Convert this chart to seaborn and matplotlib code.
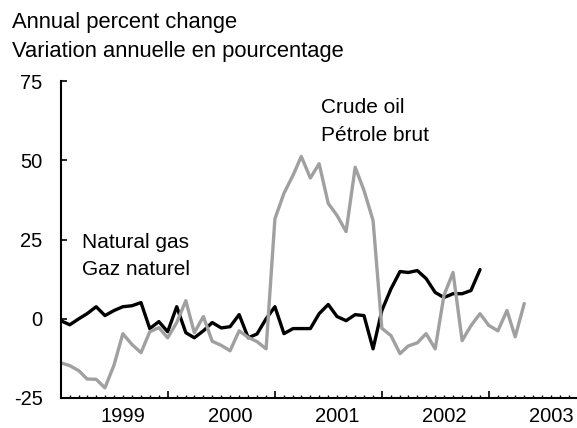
import matplotlib
matplotlib.use("Agg")
import matplotlib.pyplot as plt
import matplotlib.dates as mdates
from matplotlib.ticker import FixedLocator, FuncFormatter, NullFormatter
import pandas as pd
import seaborn as sns

# Monthly year-over-year changes, starting December 1998
crude_oil = [
    -13.9, -14.8, -16.4, -19.0, -19.1, -21.8, -14.6, -4.7, -8.1, -10.7,
    -4.1, -2.8, -6.0, -1.2, 5.7, -4.4, 0.7, -7.1, -8.4, -10.1,
    -3.8, -5.9, -7.2, -9.5, 31.5, 39.6, 45.3, 51.2, 44.4, 48.9,
    36.4, 32.6, 27.5, 47.8, 40.5, 31.0, -3.0, -5.3, -11.0, -8.6,
    -7.6, -4.7, -9.5, 7.4, 14.6, -6.9, -2.2, 1.6, -2.1, -3.8,
    2.6, -5.7, 4.8,
]
natural_gas = [
    -0.6, -1.9, 0.0, 1.6, 3.8, 1.0, 2.6, 3.8, 4.1, 5.1,
    -3.1, -0.9, -4.1, 3.8, -4.4, -6.0, -3.8, -1.2, -2.9, -2.5,
    1.3, -6.0, -4.8, 0.0, 3.8, -4.7, -3.1, -3.1, -3.1, 1.6,
    4.5, 0.7, -0.6, 1.3, 1.0, -9.5, 2.6, 9.4, 14.9, 14.6,
    15.2, 12.7, 8.3, 6.7, 7.9, 7.9, 8.9, 15.5,
]
year_labels = ["1999", "2000", "2001", "2002", "2003"]
y_ticks = [-25, 0, 25, 50, 75]

oil_dates = pd.date_range("1998-12-01", periods=len(crude_oil), freq="MS")
gas_dates = pd.date_range("1998-12-01", periods=len(natural_gas), freq="MS")
df = pd.concat([
    pd.DataFrame({"date": gas_dates, "value": natural_gas, "series": "Natural gas"}),
    pd.DataFrame({"date": oil_dates, "value": crude_oil, "series": "Crude oil"}),
], ignore_index=True)

sns.set_theme(style="white")
plt.rcParams["font.family"] = ["Liberation Sans", "DejaVu Sans"]

fig = plt.figure(figsize=(5.77, 4.28), dpi=100)
ax = fig.add_axes([0.1052, 0.0701, 0.8948, 0.7406])

sns.lineplot(
    data=df, x="date", y="value", hue="series",
    hue_order=["Natural gas", "Crude oil"],
    palette={"Natural gas": "#000000", "Crude oil": "#a0a0a0"},
    linewidth=2.4, legend=False, ax=ax,
)

ax.set_xlim(mdates.date2num(pd.Timestamp("1998-12-01")),
            mdates.date2num(pd.Timestamp("2003-09-28")))
ax.set_ylim(-25, 75)
ax.set_xlabel("")
ax.set_ylabel("")

for side in ("top", "right"):
    ax.spines[side].set_visible(False)
for side in ("left", "bottom"):
    ax.spines[side].set_color("black")
    ax.spines[side].set_linewidth(1.5)

# y axis: inward ticks
ax.set_yticks(y_ticks)
ax.set_yticklabels([str(v) for v in y_ticks])
ax.tick_params(axis="y", direction="in", length=4.5, width=1.2, color="black",
               pad=13, labelsize=14.5, labelcolor="black", left=True)

# x axis: monthly minor ticks, year names centred mid-year, taller ticks each December
month_ticks = pd.date_range("1999-01-01", "2003-09-01", freq="MS")
label_at = {pd.Timestamp(f"{y}-07-01"): y for y in year_labels}
month_nums = [mdates.date2num(d) for d in month_ticks]
num_to_label = {mdates.date2num(k): v for k, v in label_at.items()}

dec_ticks = [mdates.date2num(pd.Timestamp(f"{y}-12-01")) for y in (1999, 2000, 2001, 2002)]
ax.xaxis.set_major_locator(FixedLocator(dec_ticks))
ax.xaxis.set_major_formatter(NullFormatter())
ax.xaxis.set_minor_locator(FixedLocator(month_nums))
ax.xaxis.set_minor_formatter(FuncFormatter(lambda v, p: num_to_label.get(v, "")))
ax.tick_params(axis="x", which="major", direction="in", length=5, width=1.2,
               color="black", bottom=True)
ax.tick_params(axis="x", which="minor", direction="in", length=2.5, width=1.0,
               color="black", bottom=True, pad=6.5, labelsize=14.5,
               labelcolor="black")

# series names
ax.text(mdates.date2num(pd.Timestamp("2001-05-07")), 65, "Crude oil",
        fontsize=15, va="baseline", ha="left", color="black")
ax.text(mdates.date2num(pd.Timestamp("2001-05-07")), 56.2, "Pétrole brut",
        fontsize=15, va="baseline", ha="left", color="black")
ax.text(mdates.date2num(pd.Timestamp("1999-02-12")), 22.4, "Natural gas",
        fontsize=15, va="baseline", ha="left", color="black")
ax.text(mdates.date2num(pd.Timestamp("1999-02-12")), 13.9, "Gaz naturel",
        fontsize=15, va="baseline", ha="left", color="black")

# unit caption
fig.text(12 / 577, 1 - 28 / 428, "Annual percent change", fontsize=15.8,
         va="baseline", ha="left", color="black")
fig.text(12 / 577, 1 - 57 / 428, "Variation annuelle en pourcentage", fontsize=15.8,
         va="baseline", ha="left", color="black")

fig.savefig("out.png", dpi=100)
